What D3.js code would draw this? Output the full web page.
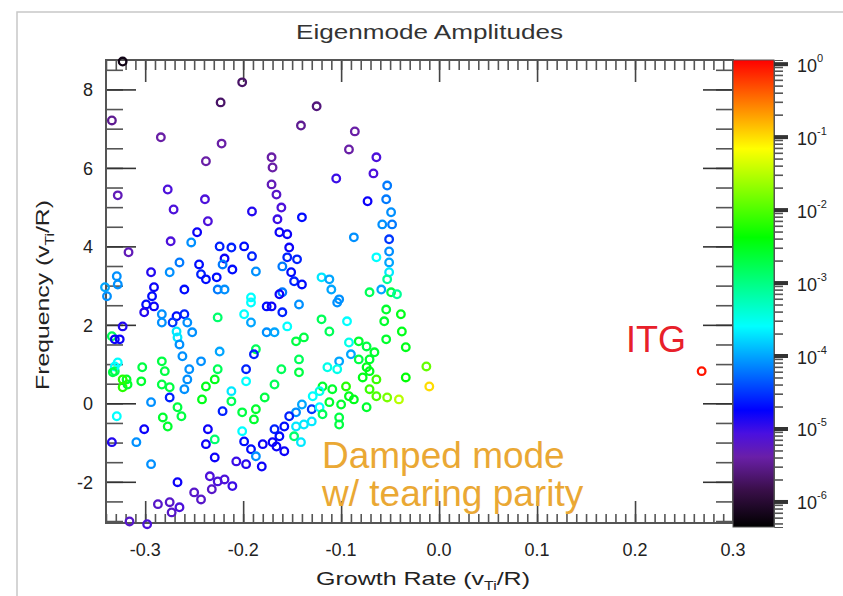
<!DOCTYPE html>
<html>
<head>
<meta charset="utf-8">
<script src="https://cdn.jsdelivr.net/npm/d3@7"></script>
<style>
  body { margin: 0; background: #fff; }
  text { font-family: "Liberation Sans", Arial, Helvetica, sans-serif; }
</style>
</head>
<body>
<div id="main"></div>
<script>
const ctx = {
    w: 843,
    h: 596,
    left: 106, right: 733, top: 60, bottom: 523,
};

// growth rate (v_Ti/R), frequency (v_Ti/R), log10 of amplitude -- same order
const growthRate = [
  -0.201,-0.223,-0.334,-0.284,-0.222,-0.238,-0.328,-0.277,-0.271,-0.239,
  -0.191,-0.236,-0.317,-0.274,-0.247,-0.253,-0.224,-0.212,-0.199,-0.191,
  -0.219,-0.211,-0.221,-0.265,-0.275,-0.294,-0.245,-0.243,-0.238,-0.227,
  -0.226,-0.187,-0.328,-0.291,-0.293,-0.260,-0.219,-0.339,-0.192,-0.323,
  -0.125,-0.141,-0.086,-0.092,-0.064,-0.067,-0.105,-0.053,-0.073,-0.054,
  -0.049,-0.058,-0.048,-0.051,-0.051,-0.051,-0.051,-0.053,-0.064,-0.087,
  -0.140,-0.171,-0.170,-0.171,-0.166,-0.161,-0.165,-0.163,-0.155,-0.153,
  -0.155,-0.145,-0.160,-0.151,-0.148,-0.140,-0.120,-0.112,-0.110,-0.160,
  -0.102,-0.071,-0.059,-0.049,-0.299,-0.291,-0.301,-0.283,-0.283,-0.268,
  -0.260,-0.257,-0.272,-0.252,-0.268,-0.267,-0.265,-0.323,-0.334,-0.326,
  -0.226,-0.192,-0.199,-0.192,-0.176,-0.176,-0.187,-0.189,-0.224,-0.262,
  -0.243,-0.255,-0.283,-0.280,-0.303,-0.331,-0.331,-0.319,-0.304,-0.323,
  -0.318,-0.283,-0.275,-0.260,-0.257,-0.226,-0.229,-0.238,-0.242,-0.275,
  -0.294,-0.267,-0.263,-0.282,-0.277,-0.329,-0.301,-0.309,-0.334,-0.212,
  -0.212,-0.221,-0.201,-0.187,-0.189,-0.178,-0.197,-0.197,-0.236,-0.229,
  -0.238,-0.229,-0.201,-0.199,-0.192,-0.180,-0.187,-0.207,-0.197,-0.181,
  -0.294,-0.267,-0.234,-0.226,-0.219,-0.211,-0.232,-0.250,-0.243,-0.287,
  -0.275,-0.265,-0.273,-0.316,-0.298,-0.329,-0.341,-0.331,-0.328,-0.333,
  -0.323,-0.163,-0.171,-0.160,-0.143,-0.104,-0.043,-0.120,-0.094,-0.112,
  -0.155,-0.146,-0.138,-0.168,-0.054,-0.056,-0.039,-0.038,-0.054,-0.082,
  -0.092,-0.074,-0.090,-0.082,-0.071,-0.066,-0.034,-0.143,-0.102,-0.161,
  -0.143,-0.114,-0.104,-0.074,-0.071,-0.078,-0.064,-0.034,-0.013,-0.010,
  -0.168,-0.119,-0.122,-0.109,-0.095,-0.092,-0.071,-0.064,-0.053,-0.041,
  -0.112,-0.100,-0.087,-0.074,-0.129,-0.140,-0.130,-0.122,-0.119,-0.102,
  -0.102,-0.146,-0.153,-0.158,-0.146,-0.138,-0.130,-0.168,-0.163,-0.148,
  -0.141,-0.170,-0.158,-0.166, 0.268
];
const frequency = [
  8.18,7.67,7.21,6.78,6.62,6.17,5.30,5.45,4.94,5.20,
  4.89,4.64,3.85,4.13,4.36,4.10,4.00,3.97,4.00,3.75,
  3.69,3.41,3.54,3.59,3.34,3.34,3.54,3.29,3.16,3.21,
  2.90,3.36,3.03,2.96,2.73,2.90,2.90,2.73,2.70,8.71,
  7.57,7.08,6.93,6.47,6.27,5.86,5.73,5.55,5.15,5.20,
  4.87,4.56,4.56,4.18,3.87,3.59,3.34,3.16,3.72,4.23,
  4.74,6.27,6.01,5.58,5.32,4.99,4.69,4.36,4.31,3.97,
  3.72,3.67,3.49,3.34,3.11,3.03,3.21,3.16,2.90,2.83,
  2.65,2.83,2.90,2.83,2.52,2.47,2.32,2.27,2.06,2.22,
  2.27,2.06,2.06,1.81,1.83,1.68,1.50,1.96,1.71,1.63,
  2.19,2.57,2.27,2.06,2.47,1.81,1.38,1.25,1.32,1.20,
  1.07,0.87,1.07,0.82,0.92,0.82,0.94,0.61,0.56,0.41,
  0.48,0.48,0.41,0.36,0.61,0.87,0.61,0.43,0.10,0.15,
  0.03,-0.10,-0.33,-0.36,-0.59,-0.33,-0.66,-0.99,-0.99,0.31,
  0.05,-0.20,-0.23,-0.15,-0.41,0.15,0.56,0.87,-0.66,-0.92,
  -1.04,-1.38,-0.71,-0.97,-1.17,-1.04,-1.35,-1.48,-1.55,-1.61,
  -1.55,-2.01,-1.86,-1.99,-1.94,-2.11,-2.19,-2.27,-2.45,-2.57,
  -2.52,-2.65,-2.78,-3.01,-3.08,3.24,2.96,1.63,1.04,0.79,
  0.61,2.78,2.47,2.32,2.52,2.57,2.78,2.14,2.09,1.83,
  1.96,1.58,1.68,1.81,2.39,2.09,2.27,1.83,1.63,1.58,
  1.55,1.45,1.25,1.12,1.12,1.30,1.43,1.12,1.07,0.87,
  0.79,0.92,0.87,0.92,0.82,0.66,0.61,0.66,0.94,0.43,
  0.48,0.43,0.31,0.36,0.43,0.18,0.36,0.18,0.15,0.10,
  0.03,-0.03,0.10,-0.10,0.18,-0.03,-0.15,-0.10,-0.28,-0.36,
  -0.54,-0.23,-0.33,-0.59,-0.59,-0.54,-0.46,-0.66,-0.84,-0.84,
  -0.99,-0.99,-1.22,-1.10,0.82
];
const logAmplitude = [
  -5.7,-5.7,-5.5,-5.4,-5.4,-5.4,-5.3,-5.1,-5.1,-5.1,
  -4.9,-5.1,-5.3,-5.1,-4.8,-4.1,-4.6,-4.6,-4.7,-4.6,
  -4.8,-4.7,-4.2,-4.2,-4.1,-4.9,-4.7,-4.6,-4.7,-4.7,
  -4.2,-4.1,-4.1,-4.8,-4.7,-4.7,-4.1,-4.1,-3.6,-6.2,
  -5.6,-5.5,-5.4,-5.4,-5.1,-5.1,-5.0,-4.2,-4.8,-4.2,
  -4.1,-4.1,-4.2,-4.5,-4.1,-4.0,-3.7,-3.1,-3.6,-4.1,
  -4.7,-5.4,-5.4,-5.3,-5.2,-5.1,-5.0,-4.8,-4.8,-4.8,
  -4.6,-4.6,-4.2,-4.7,-4.6,-4.7,-3.7,-4.0,-4.0,-4.2,
  -4.1,-2.8,-4.0,-2.7,-4.7,-4.8,-4.9,-4.1,-4.1,-4.7,
  -4.6,-4.1,-4.5,-4.1,-3.7,-3.7,-4.1,-4.9,-2.8,-4.8,
  -2.9,-3.6,-3.6,-4.0,-4.7,-4.1,-2.8,-4.6,-4.0,-4.1,
  -4.1,-4.1,-2.7,-2.7,-2.7,-2.8,-3.6,-2.6,-2.6,-2.2,
  -2.6,-2.7,-2.7,-4.1,-4.1,-2.8,-2.5,-2.5,-2.5,-4.6,
  -4.1,-2.7,-2.7,-2.6,-2.6,-3.6,-4.8,-4.1,-4.9,-3.7,
  -2.8,-4.6,-2.7,-2.6,-2.6,-2.7,-3.6,-4.6,-4.8,-2.9,
  -4.8,-4.8,-3.6,-4.7,-4.7,-4.8,-4.1,-5.0,-4.9,-4.8,
  -4.1,-4.8,-5.1,-5.1,-5.1,-5.0,-5.2,-5.2,-5.2,-5.2,
  -5.2,-5.1,-5.2,-5.2,-5.1,-4.1,-4.0,-4.8,-3.6,-2.7,
  -2.2,-4.8,-4.8,-4.6,-4.1,-4.1,-3.1,-2.8,-3.6,-2.8,
  -3.6,-2.7,-2.7,-4.0,-2.6,-2.6,-2.5,-2.5,-2.6,-2.6,
  -3.5,-2.7,-4.0,-2.7,-2.6,-2.6,-2.5,-2.8,-4.0,-2.8,
  -2.7,-3.5,-3.5,-2.5,-2.5,-2.5,-2.1,-2.4,-1.9,-1.0,
  -2.8,-2.6,-3.5,-2.6,-2.2,-2.5,-2.1,-2.0,-1.8,-1.5,
  -2.6,-2.6,-2.5,-2.6,-3.6,-4.0,-4.5,-3.6,-2.8,-2.7,
  -2.7,-4.1,-4.6,-4.7,-3.7,-3.7,-3.7,-4.6,-4.7,-2.9,
  -3.7,-4.8,-4.8,-4.8,-0.05
];

const xTicks = [-0.3, -0.2, -0.1, 0.0, 0.1, 0.2, 0.3];
const yTicks = [-2, 0, 2, 4, 6, 8];
const cbarExponents = [0, -1, -2, -3, -4, -5, -6];

// rainbow colour table (position along bar 0..1, colour)
const cbarStops = [0, 0.08, 0.15, 0.2, 0.25, 0.43, 0.62, 0.81, 1];
const cbarColors = ["#000000", "#3a0f4a", "#6a1fa8", "#4a10e0", "#0000ff",
                    "#00ffff", "#00ff00", "#ffff00", "#ff0000"];
const logMin = -6.35, logMax = 0.05;

function createViz() {
    const svg = d3.select("#main").append("svg")
        .attr("width", ctx.w).attr("height", ctx.h);

    // outer light frame
    svg.append("rect").attr("x", 17).attr("y", 12)
        .attr("width", 900).attr("height", 700)
        .attr("fill", "none").attr("stroke", "#c8c8c8").attr("stroke-width", 1.5);

    const x = d3.scaleLinear().domain([-0.34, 0.3]).range([ctx.left, ctx.right]);
    const y = d3.scaleLinear().domain([-3.05, 8.75]).range([ctx.bottom, ctx.top]);
    const color = d3.scaleLinear()
        .domain(cbarStops.map(t => logMin + t * (logMax - logMin)))
        .range(cbarColors)
        .clamp(true);

    // ticks
    const minorX = d3.range(-34, 31).map(i => i / 100);
    const minorY = d3.range(-6, 18).map(i => i / 2);
    function tickAxis(axis, vals, size, tx, ty, col) {
        const g = svg.append("g").attr("transform", `translate(${tx},${ty})`)
            .call(axis.tickValues(vals).tickSize(-size).tickFormat(""));
        g.select(".domain").remove();
        g.selectAll("line").attr("stroke", col).attr("stroke-width", 1.6);
    }
    tickAxis(d3.axisBottom(x), minorX, 9, 0, ctx.bottom, "#555");
    tickAxis(d3.axisBottom(x), xTicks, 22, 0, ctx.bottom, "#444");
    tickAxis(d3.axisTop(x), minorX, 10, 0, ctx.top, "#555");
    tickAxis(d3.axisTop(x), xTicks, 22, 0, ctx.top, "#444");
    tickAxis(d3.axisLeft(y), minorY, 17, ctx.left, 0, "#555");
    tickAxis(d3.axisLeft(y), yTicks, 30, ctx.left, 0, "#333");
    tickAxis(d3.axisRight(y), minorY, 17, ctx.right, 0, "#555");
    tickAxis(d3.axisRight(y), yTicks, 30, ctx.right, 0, "#333");

    svg.append("rect")
        .attr("x", ctx.left).attr("y", ctx.top)
        .attr("width", ctx.right - ctx.left).attr("height", ctx.bottom - ctx.top)
        .attr("fill", "none").attr("stroke", "#555").attr("stroke-width", 2);

    // points
    const idx = d3.range(growthRate.length);
    svg.append("g").selectAll("circle")
        .data(idx)
        .enter().append("circle")
        .attr("cx", i => x(growthRate[i]))
        .attr("cy", i => y(frequency[i]))
        .attr("r", 3.8)
        .attr("fill", "none")
        .attr("stroke", i => color(logAmplitude[i]))
        .attr("stroke-width", 2.3);

    // tick labels
    svg.append("g").selectAll("text").data(xTicks).enter().append("text")
        .attr("x", d => x(d)).attr("y", 556)
        .attr("text-anchor", "middle").attr("font-size", 18).attr("fill", "#222")
        .text(d => d.toFixed(1));
    svg.append("g").selectAll("text").data(yTicks).enter().append("text")
        .attr("x", 93).attr("y", d => y(d) + 7)
        .attr("text-anchor", "end").attr("font-size", 18).attr("fill", "#222")
        .text(d => d);

    // titles
    svg.append("text").attr("x", 296).attr("y", 39)
        .attr("font-size", 20).attr("fill", "#333")
        .attr("textLength", 267).attr("lengthAdjust", "spacingAndGlyphs")
        .text("Eigenmode Amplitudes");

    const xt = svg.append("text").attr("x", 316).attr("y", 585)
        .attr("font-size", 19).attr("fill", "#222")
        .attr("textLength", 214).attr("lengthAdjust", "spacingAndGlyphs");
    xt.append("tspan").text("Growth Rate (v");
    xt.append("tspan").attr("font-size", 12).attr("dy", 5).text("Ti");
    xt.append("tspan").attr("dy", -5).text("/R)");

    const yt = svg.append("text").attr("transform", "translate(49,390) rotate(-90)")
        .attr("font-size", 19).attr("fill", "#222")
        .attr("textLength", 190).attr("lengthAdjust", "spacingAndGlyphs");
    yt.append("tspan").text("Frequency (v");
    yt.append("tspan").attr("font-size", 12).attr("dy", 5).text("Ti");
    yt.append("tspan").attr("dy", -5).text("/R)");

    // colour bar
    const cb = { x: 733, w: 41, top: 60, bottom: 527 };
    const grad = svg.append("defs").append("linearGradient").attr("id", "rainbow")
        .attr("x1", 0).attr("y1", 1).attr("x2", 0).attr("y2", 0);
    grad.selectAll("stop").data(cbarStops).enter().append("stop")
        .attr("offset", d => d).attr("stop-color", (d, i) => cbarColors[i]);
    svg.append("rect").attr("x", cb.x).attr("y", cb.top)
        .attr("width", cb.w).attr("height", cb.bottom - cb.top)
        .attr("fill", "url(#rainbow)").attr("stroke", "#555").attr("stroke-width", 1);

    const c = d3.scaleLog().domain([10 ** logMin, 10 ** logMax]).range([cb.bottom, cb.top]);
    const minorC = [];
    for (let e = -7; e <= 0; e++) for (let k = 2; k <= 9; k++) {
        const v = k * 10 ** e;
        if (v > 10 ** logMin && v < 10 ** logMax) minorC.push(v);
    }
    const majorC = cbarExponents.map(e => 10 ** e);
    let g = svg.append("g").attr("transform", `translate(${cb.x + cb.w},0)`)
        .call(d3.axisRight(c).tickValues(minorC).tickSize(9).tickFormat(""));
    g.select(".domain").attr("stroke", "#555");
    g.selectAll("line").attr("stroke", "#555").attr("stroke-width", 1.6);
    g = svg.append("g").attr("transform", `translate(${cb.x + cb.w},0)`)
        .call(d3.axisRight(c).tickValues(majorC).tickSize(14).tickFormat(""));
    g.select(".domain").remove();
    g.selectAll("line").attr("stroke", "#333").attr("stroke-width", 4);

    const lab = svg.append("g").selectAll("text").data(cbarExponents).enter().append("text")
        .attr("x", 797).attr("y", d => c(10 ** d) + 8)
        .attr("font-size", 18).attr("fill", "#222");
    lab.append("tspan").text("10");
    lab.append("tspan").attr("font-size", 11).attr("dy", -10).text(d => d);

    // annotations
    svg.append("text").attr("x", 626).attr("y", 352).attr("font-size", 36)
        .attr("fill", "#e8202a").text("ITG");
    svg.append("text").attr("x", 322).attr("y", 468).attr("font-size", 37)
        .attr("fill", "#eaa834").text("Damped mode");
    svg.append("text").attr("x", 322).attr("y", 506).attr("font-size", 37)
        .attr("fill", "#eaa834").text("w/ tearing parity");
}

createViz();
</script>
</body>
</html>
